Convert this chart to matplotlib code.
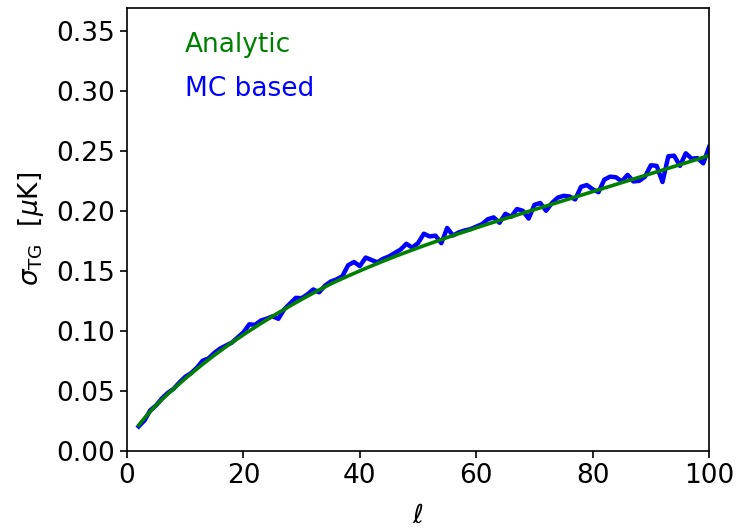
import matplotlib
matplotlib.use("Agg")
from matplotlib import pyplot as plt

# multipoles
ell = list(range(2, 101))

# analytic noise estimate, one value per multipole
sigma_analytic = [
    0.0215, 0.0275, 0.0330, 0.0381, 0.0429, 0.0475, 0.0519, 0.0562, 0.0604,
    0.0645, 0.0685, 0.0724, 0.0762, 0.0799, 0.0835, 0.0870, 0.0904, 0.0937,
    0.0970, 0.1002, 0.1033, 0.1064, 0.1094, 0.1124, 0.1153, 0.1182, 0.1210,
    0.1238, 0.1265, 0.1292, 0.1318, 0.1344, 0.1369, 0.1394, 0.1417, 0.1439,
    0.1461, 0.1482, 0.1503, 0.1524, 0.1544, 0.1564, 0.1584, 0.1603, 0.1622,
    0.1641, 0.1659, 0.1677, 0.1695, 0.1713, 0.1730, 0.1747, 0.1764, 0.1781,
    0.1798, 0.1814, 0.1830, 0.1846, 0.1862, 0.1878, 0.1894, 0.1909, 0.1924,
    0.1939, 0.1954, 0.1969, 0.1984, 0.1999, 0.2014, 0.2029, 0.2044, 0.2059,
    0.2074, 0.2089, 0.2104, 0.2119, 0.2134, 0.2149, 0.2164, 0.2179, 0.2194,
    0.2209, 0.2224, 0.2239, 0.2254, 0.2269, 0.2284, 0.2299, 0.2314, 0.2329,
    0.2344, 0.2359, 0.2374, 0.2389, 0.2404, 0.2419, 0.2434, 0.2450, 0.2466,
]

# scatter of the Monte Carlo simulations
sigma_mc = [
    0.0205, 0.0255, 0.0340, 0.0381, 0.0439, 0.0485, 0.0519, 0.0572, 0.0619,
    0.0650, 0.0695, 0.0754, 0.0772, 0.0819, 0.0855, 0.0880, 0.0904, 0.0947,
    0.0990, 0.1057, 0.1053, 0.1089, 0.1104, 0.1124, 0.1103, 0.1182, 0.1230,
    0.1278, 0.1275, 0.1307, 0.1348, 0.1324, 0.1379, 0.1414, 0.1432, 0.1459,
    0.1551, 0.1577, 0.1543, 0.1614, 0.1594, 0.1574, 0.1604, 0.1623, 0.1652,
    0.1681, 0.1729, 0.1697, 0.1735, 0.1813, 0.1790, 0.1797, 0.1734, 0.1861,
    0.1798, 0.1824, 0.1840, 0.1851, 0.1872, 0.1893, 0.1934, 0.1949, 0.1904,
    0.1979, 0.1954, 0.2019, 0.2004, 0.1939, 0.2054, 0.2069, 0.2004, 0.2069,
    0.2114, 0.2129, 0.2124, 0.2099, 0.2204, 0.2219, 0.2184, 0.2159, 0.2264,
    0.2289, 0.2284, 0.2249, 0.2304, 0.2249, 0.2254, 0.2289, 0.2384, 0.2379,
    0.2244, 0.2459, 0.2464, 0.2379, 0.2484, 0.2439, 0.2444, 0.2400, 0.2536,
]

plt.rcParams['font.size'] = 19
plt.rcParams['axes.linewidth'] = 1.2
plt.rcParams['xtick.major.size'] = 5.2
plt.rcParams['ytick.major.size'] = 5.2
plt.rcParams['xtick.major.width'] = 1.2
plt.rcParams['ytick.major.width'] = 1.2

fig = plt.figure(figsize=(7.36, 5.29), dpi=100)
ax = fig.add_axes([0.1726, 0.1474, 0.7908, 0.8384])

ax.plot(ell, sigma_mc, color='blue', lw=3.2)
ax.plot(ell, sigma_analytic, color='green', lw=2.6)

ax.text(0.1, 0.9, 'Analytic', color='green', transform=ax.transAxes)
ax.text(0.1, 0.8, 'MC based', color='blue', transform=ax.transAxes)

ax.set_xlim(0, 100)
ax.set_ylim(0, 0.37)
ax.set_xticks([0, 20, 40, 60, 80, 100])
ax.set_yticks([0.0, 0.05, 0.10, 0.15, 0.20, 0.25, 0.30, 0.35])
ax.set_xlabel(r'$\ell$', labelpad=10)
ax.set_ylabel(r'$\sigma_{\rm TG}$  [$\mu$K]', labelpad=7)

fig.savefig('out.png', dpi=100)
